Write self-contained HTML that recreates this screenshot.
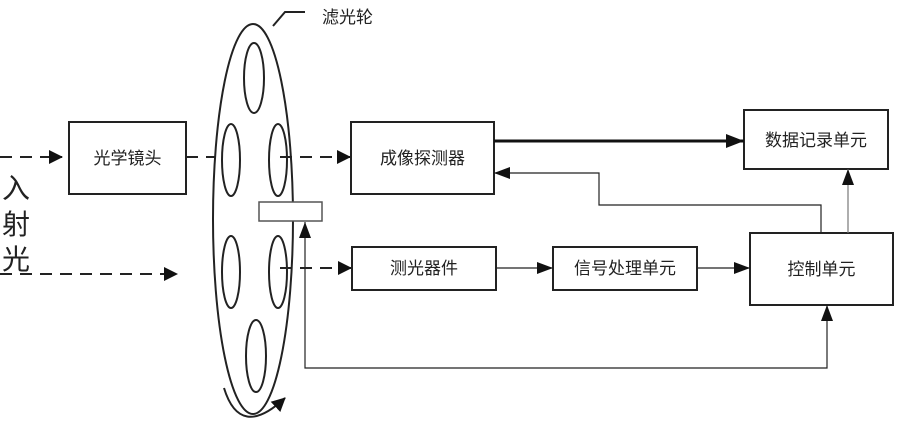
<!DOCTYPE html>
<html><head><meta charset="utf-8"><style>
html,body{margin:0;padding:0;background:#fff}
svg text{font-family:"Liberation Sans","Noto Sans CJK SC",sans-serif;fill:#222}
</style></head><body>
<svg width="899" height="431" viewBox="0 0 899 431" xmlns="http://www.w3.org/2000/svg">
<defs>
<marker id="a" markerWidth="10" markerHeight="10" refX="9" refY="5" orient="auto" markerUnits="userSpaceOnUse"><path d="M0,0 L12,5 L0,10 z" fill="#111"/></marker>
<marker id="b" markerWidth="14" markerHeight="14" refX="13" refY="7" orient="auto" markerUnits="userSpaceOnUse"><path d="M0,0 L14,7 L0,14 z" fill="#111"/></marker>
</defs>
<g fill="none" stroke="#222" stroke-width="2">
<ellipse cx="253" cy="219" rx="40" ry="195"/>
<ellipse cx="254" cy="78" rx="10" ry="35"/>
<ellipse cx="231" cy="160" rx="9" ry="36"/>
<ellipse cx="278" cy="160" rx="9" ry="36"/>
<ellipse cx="231" cy="272" rx="9" ry="36"/>
<ellipse cx="278" cy="272" rx="9" ry="36"/>
<ellipse cx="256" cy="356" rx="10" ry="36"/>
<path d="M273,26 L285,12 L305,12"/>
<path d="M224,388 Q240,440 285,398" marker-end="url(#b)"/>
</g>
<g fill="none" stroke="#222" stroke-width="2" stroke-dasharray="12,8">
<line x1="0" y1="157" x2="62" y2="157" marker-end="url(#b)"/>
<line x1="186" y1="157" x2="216" y2="157"/>
<line x1="280" y1="157" x2="350" y2="157" marker-end="url(#b)"/>
<line x1="0" y1="274" x2="177" y2="274" marker-end="url(#b)"/>
<line x1="280" y1="268" x2="351" y2="268" marker-end="url(#b)"/>
</g>
<g fill="#fff" stroke="#222" stroke-width="2">
<rect x="69" y="122" width="117" height="72"/>
<rect x="351" y="122" width="143" height="72"/>
<rect x="352" y="247" width="144" height="43"/>
<rect x="553" y="247" width="144" height="43"/>
<rect x="750" y="233" width="143" height="72"/>
<rect x="744" y="110" width="144" height="59"/>
</g>
<rect x="259" y="202" width="63" height="19" fill="#fff" stroke="#555" stroke-width="1.5"/>
<g fill="none" stroke="#222" stroke-width="1.2">
<polyline points="827,305 827,368 305,368 305,222" />
<polyline points="821,233 821,205 599,205 599,173 494,173"/>
<line x1="496" y1="268" x2="553" y2="268"/>
<line x1="697" y1="268" x2="750" y2="268"/>
<line x1="848" y1="233" x2="848" y2="169" stroke="#777"/>
</g>
<line x1="494" y1="141" x2="744" y2="141" stroke="#111" stroke-width="3"/>
<g fill="#111">
<path d="M299,238 L305,222 L311,238 z"/>
<path d="M821,321 L827,305 L833,321 z"/>
<path d="M510,167 L494,173 L510,179 z"/>
<path d="M537,262 L553,268 L537,274 z"/>
<path d="M734,262 L750,268 L734,274 z"/>
<path d="M842,185 L848,169 L854,185 z"/>
<path d="M726,134 L744,141 L726,148 z"/>
</g>
<g font-size="17">
<text x="127.5" y="164" text-anchor="middle">光学镜头</text>
<text x="422.5" y="164" text-anchor="middle">成像探测器</text>
<text x="424" y="274" text-anchor="middle">测光器件</text>
<text x="625" y="274" text-anchor="middle">信号处理单元</text>
<text x="821.5" y="275" text-anchor="middle">控制单元</text>
<text x="816" y="146" text-anchor="middle">数据记录单元</text>
<text x="322" y="23">滤光轮</text>
</g>
<g font-size="28">
<text x="2" y="198">入</text>
<text x="2" y="234">射</text>
<text x="2" y="269">光</text>
</g>
</svg>
</body></html>
